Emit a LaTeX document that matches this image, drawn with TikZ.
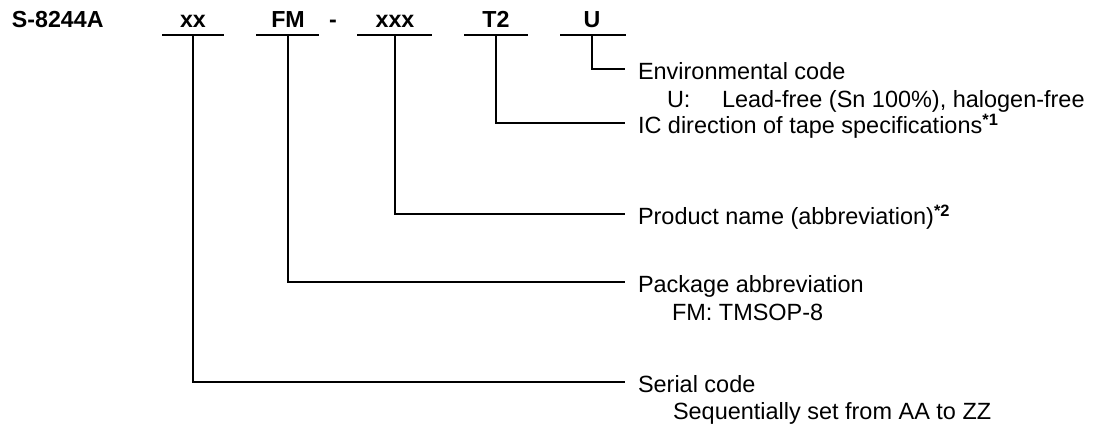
\documentclass[tikz,border=0pt]{standalone}
\usepackage{fontspec}
\setmainfont{Liberation Sans}
\usetikzlibrary{calc}
\begin{document}
\begin{tikzpicture}[x=0.75pt,y=-0.75pt,
  every node/.style={inner sep=0pt, outer sep=0pt, font=\fontsize{17.6}{20}\selectfont},
  code/.style={anchor=base, font=\fontsize{17.4}{20}\selectfont\bfseries},
  desc/.style={anchor=base west},
  conn/.style={line width=1.5pt, line cap=rect},
  uline/.style={line width=1.5pt}]
\useasboundingbox (0,0) rectangle (1093,427);

% header codes
\node[code, anchor=base west] (part) at (12,28) {S-8244A};
\node[code] (xx)  at (193,28) {xx};
\node[code] (fm)  at (288,28) {FM};
\node[code] (dash) at (333,28) {-};
\node[code] (xxx) at (395,28) {xxx};
\node[code] (t2)  at (496,28) {T2};
\node[code] (u)   at (592,28) {U};

% underlines
\draw[uline] (162,35) -- (224,35);
\draw[uline] (256,35) -- (319,35);
\draw[uline] (357,35) -- (432,35);
\draw[uline] (464,35) -- (528,35);
\draw[uline] (560,35) -- (626,35);

% connector start points (under each code)
\coordinate (xxs)  at (193,35);
\coordinate (fms)  at (288,35);
\coordinate (xxxs) at (395,35);
\coordinate (t2s)  at (496,35);
\coordinate (us)   at (592,35);

% connector end points
\coordinate (ue)   at (624,69);
\coordinate (t2e)  at (624,123);
\coordinate (xxxe) at (624,214);
\coordinate (fme)  at (624,282);
\coordinate (xxe)  at (624,382);

% descriptions
\node[desc] (env) at ($(ue)+(14,11)$) {Environmental code};
\node[desc] (envu) at ($(ue)+(43,39)$) {U:};
\node[desc] (envd) at ($(ue)+(98,39)$) {Lead-free (Sn 100\%), halogen-free};
\node[desc] (ic) at ($(t2e)+(14,11)$) {IC direction of tape specifications\textsuperscript{\bfseries *1}};
\node[desc] (prod) at ($(xxxe)+(14,11)$) {Product name (abbreviation)\textsuperscript{\bfseries *2}};
\node[desc] (pkg) at ($(fme)+(14,11)$) {Package abbreviation};
\node[desc] (pkgd) at ($(fme)+(48,39)$) {FM: TMSOP-8};
\node[desc] (ser) at ($(xxe)+(14,11)$) {Serial code};
\node[desc] (serd) at ($(xxe)+(49,38)$) {Sequentially set from AA to ZZ};

% connectors
\draw[conn] (us) |- (ue);
\draw[conn] (t2s) |- (t2e);
\draw[conn] (xxxs) |- (xxxe);
\draw[conn] (fms) |- (fme);
\draw[conn] (xxs) |- (xxe);
\end{tikzpicture}
\end{document}
